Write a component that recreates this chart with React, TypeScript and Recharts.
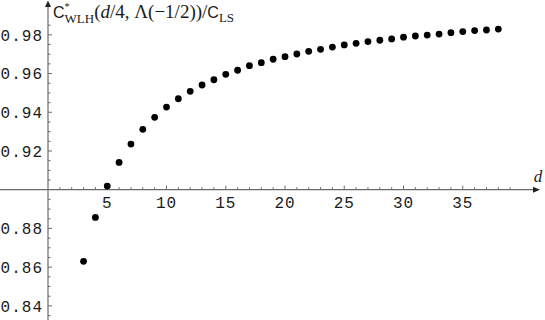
import React from 'react';
import {
  ScatterChart, Scatter, XAxis, YAxis, ReferenceLine
} from 'recharts';

// d = 3..38, ratio C*_WLH / C_LS
const dValues = [
  3, 4, 5, 6, 7, 8, 9, 10, 11, 12, 13, 14, 15, 16, 17, 18, 19, 20,
  21, 22, 23, 24, 25, 26, 27, 28, 29, 30, 31, 32, 33, 34, 35, 36, 37, 38
];
const ratioValues = [
  0.8630, 0.8857, 0.9019, 0.9141, 0.9236, 0.9312, 0.9374, 0.9427, 0.9470,
  0.9508, 0.9541, 0.9568, 0.9596, 0.9617, 0.9641, 0.9656, 0.9674, 0.9687,
  0.9701, 0.9715, 0.9725, 0.9737, 0.9748, 0.9756, 0.9765, 0.9772, 0.9779,
  0.9788, 0.9794, 0.9799, 0.9804, 0.9811, 0.9817, 0.9822, 0.9825, 0.9830
];

const xMajorTicks = [5, 10, 15, 20, 25, 30, 35];
const xMinorTicks = [
  1, 2, 3, 4, 6, 7, 8, 9, 11, 12, 13, 14, 16, 17, 18, 19, 21, 22, 23, 24,
  26, 27, 28, 29, 31, 32, 33, 34, 36, 37, 38, 39
];
// 0.90 has no label: the horizontal axis crosses there
const yMajorTicks = [0.84, 0.86, 0.88, 0.92, 0.94, 0.96, 0.98];
const yMinorTicks = [
  0.835, 0.845, 0.85, 0.855, 0.865, 0.87, 0.875, 0.885, 0.89, 0.895,
  0.905, 0.91, 0.915, 0.925, 0.93, 0.935, 0.945, 0.95, 0.955, 0.965,
  0.97, 0.975, 0.985
];
const xAxisCross = 0.9;

const data = dValues.map((d, i) => ({ d, c: ratioValues[i] }));
const yTicks = [...yMajorTicks, ...yMinorTicks].sort((a, b) => a - b);

const AXIS = '#6b6b6b';
const TEXT = '#1a1a1a';
const MONO = '"Liberation Mono", "DejaVu Sans Mono", monospace';
const SERIF = '"Liberation Serif", "DejaVu Serif", serif';

const isMajorY = (v: number) => yMajorTicks.some(m => Math.abs(m - v) < 1e-6);

const YTick = (props: any) => {
  const { x, y, payload } = props;
  const major = isMajorY(payload.value);
  return (
    <g>
      <line x1={x} y1={y} x2={x + (major ? 4 : 2.5)} y2={y} stroke={AXIS} strokeWidth={1} />
      {major && (
        <text
          x={x - 5}
          y={y}
          dy="0.36em"
          textAnchor="end"
          fontFamily={MONO}
          fontSize={16}
          letterSpacing={1}
          fill={TEXT}
        >
          {payload.value.toFixed(2)}
        </text>
      )}
    </g>
  );
};

const YAxisLine = (props: any) => {
  const { x1, y1, y2 } = props;
  const top = Math.min(y1, y2);
  const bottom = Math.max(y1, y2);
  return (
    <g>
      <line x1={x1} y1={top + 5} x2={x1} y2={bottom} stroke={AXIS} strokeWidth={1.2} />
      <polygon points={`${x1},${top + 0.5} ${x1 - 3},${top + 7} ${x1 + 3},${top + 7}`} fill="#222" />
    </g>
  );
};

const XAxisLine = (props: any) => {
  const { x1, x2, y1 } = props;
  const left = Math.min(x1, x2);
  const right = Math.max(x1, x2);
  return (
    <g>
      <line x1={left} y1={y1} x2={right - 5} y2={y1} stroke={AXIS} strokeWidth={1.2} />
      <polygon points={`${right},${y1} ${right - 7},${y1 - 3} ${right - 7},${y1 + 3}`} fill="#222" />
      <text
        x={right - 2}
        y={y1 - 8}
        textAnchor="middle"
        fontFamily={SERIF}
        fontStyle="italic"
        fontSize={17}
        fill={TEXT}
      >
        d
      </text>
    </g>
  );
};

const TitleLabel = (props: any) => {
  const vb = props.viewBox || { x: 0, width: 48 };
  const x0 = vb.x + vb.width + 5;
  return (
    <text x={x0} y={18} fontFamily={SERIF} fontSize={19} fill={TEXT}>
      <tspan fontFamily={'"Liberation Sans", sans-serif'} fontSize={16}>C</tspan>
      <tspan fontSize={10} dy={-8}>*</tspan>
      <tspan fontSize={13} dx={-5} dy={13}>WLH</tspan>
      <tspan dy={-5}>(</tspan>
      <tspan fontStyle="italic">d</tspan>
      <tspan>/4, Λ(−1/2))/</tspan>
      <tspan fontFamily={'"Liberation Sans", sans-serif'} fontSize={16}>C</tspan>
      <tspan fontSize={13} dy={4}>LS</tspan>
    </text>
  );
};

const Dot = (props: any) => (
  <circle cx={props.cx} cy={props.cy} r={3.4} fill="#000" />
);

export default function App() {
  return (
    <div style={{ position: 'absolute', left: 0, top: 0, background: '#fff' }}>
      <ScatterChart width={545} height={320} margin={{ top: 0, right: 0, bottom: 0, left: 0 }}>
        <XAxis
          type="number"
          dataKey="d"
          domain={[0, 41.94]}
          allowDataOverflow
          hide
        />
        <YAxis
          type="number"
          dataKey="c"
          domain={[0.8327, 0.998]}
          allowDataOverflow
          ticks={yTicks}
          interval={0}
          width={48}
          axisLine={false}
          tickLine={false}
          tickSize={0}
          tickMargin={0}
          tick={<YTick />}
          label={{ content: <TitleLabel /> }}
        />

        <ReferenceLine x={0} ifOverflow="visible" shape={<YAxisLine />} />
        <ReferenceLine
          segment={[{ x: -4.05, y: xAxisCross }, { x: 41.52, y: xAxisCross }]}
          ifOverflow="visible"
          shape={<XAxisLine />}
        />

        {xMinorTicks.map(v => (
          <ReferenceLine
            key={`mn-${v}`}
            segment={[{ x: v, y: xAxisCross }, { x: v, y: xAxisCross + 0.0013 }]}
            stroke={AXIS}
            strokeWidth={1}
          />
        ))}
        {xMajorTicks.map(v => (
          <ReferenceLine
            key={`mj-${v}`}
            segment={[{ x: v, y: xAxisCross }, { x: v, y: xAxisCross + 0.0021 }]}
            stroke={AXIS}
            strokeWidth={1}
            label={{
              value: String(v),
              position: 'bottom',
              offset: 7,
              fill: TEXT,
              fontSize: 16,
              fontFamily: MONO,
              letterSpacing: 1
            }}
          />
        ))}

        <Scatter data={data} shape={<Dot />} isAnimationActive={false} />
      </ScatterChart>
    </div>
  );
}
